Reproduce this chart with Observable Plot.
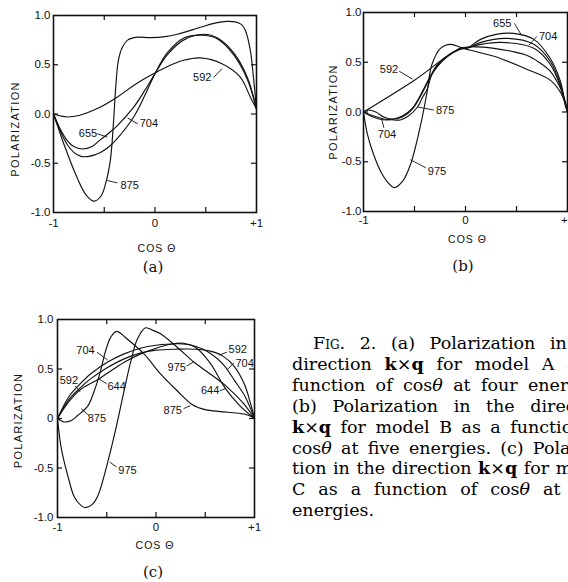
<!DOCTYPE html>
<html><head><meta charset="utf-8">
<script src="https://cdn.jsdelivr.net/npm/d3@7"></script>
<script src="https://cdn.jsdelivr.net/npm/@observablehq/plot@0.6"></script>
<style>
html,body{margin:0;padding:0;background:#fff;}
#root{position:relative;width:568px;height:582px;overflow:hidden;background:#fff;color:#111;}
.panel{position:absolute;}
.tag{position:absolute;font-family:"DejaVu Serif",serif;font-size:15px;transform:translate(-50%,-50%);color:#111;}
#cap{position:absolute;left:292px;top:333px;width:318px;font-family:"DejaVu Serif",serif;font-size:17.5px;line-height:20.9px;color:#000;}
#cap .j{text-align:justify;text-align-last:justify;white-space:nowrap;}
#cap div{white-space:nowrap;}
</style></head>
<body><div id="root">
<div id="pa" class="panel" style="left:0;top:0"></div>
<div id="pb" class="panel" style="left:290px;top:0"></div>
<div id="pc" class="panel" style="left:0;top:300px"></div>
<div class="tag" style="left:153px;top:267px">(a)</div>
<div class="tag" style="left:463px;top:266px">(b)</div>
<div class="tag" style="left:153px;top:572px">(c)</div>
<div id="cap">
<div class="j" style="text-indent:21px">F<span style="font-variant:small-caps">ig</span>. 2. (a) Polarization in the</div>
<div class="j">direction <b>k</b>×<b>q</b> for model A as a</div>
<div class="j">function of cos<i>θ</i> at four energies.</div>
<div class="j">(b) Polarization in the direction</div>
<div class="j"><b>k</b>×<b>q</b> for model B as a function of</div>
<div class="j">cos<i>θ</i> at five energies. (c) Polariza-</div>
<div class="j">tion in the direction <b>k</b>×<b>q</b> for model</div>
<div class="j">C as a function of cos<i>θ</i> at four</div>
<div>energies.</div>
</div>
</div>
<script>
// ---- axis ticks ----
const xTicks = [-1, 0, 1];
const xTickText = ["-1", "0", "+1"];
const yTicks = [1, 0.5, 0, -0.5, -1];
const yTickTextAB = ["1.0", "0.5", "0.0", "-0.5", "-1.0"];
const yTickTextC = ["1.0", "0.5", "0", "-0.5", "-1.0"];
const innerTicks = [-0.5, 0, 0.5];

// ---- panel (a): model A, [cos θ, polarization] ----
const a592 = [[-1,0],[-0.93,-0.02],[-0.865,-0.03],[-0.75,-0.015],[-0.537,0.07],[-0.373,0.17],[-0.21,0.29],[-0.03,0.40],[0.1,0.47],[0.28,0.545],[0.45,0.57],[0.66,0.51],[0.84,0.375],[0.94,0.17],[1,0.05]];
const a655 = [[-1,0],[-0.93,-0.16],[-0.865,-0.27],[-0.8,-0.33],[-0.72,-0.355],[-0.62,-0.33],[-0.537,-0.26],[-0.45,-0.19],[-0.373,-0.12],[-0.21,0.07],[-0.1,0.24],[0,0.41],[0.12,0.60],[0.28,0.75],[0.48,0.81],[0.62,0.77],[0.776,0.62],[0.91,0.37],[1,0.05]];
const a704 = [[-1,0],[-0.93,-0.18],[-0.865,-0.31],[-0.8,-0.39],[-0.73,-0.43],[-0.65,-0.43],[-0.537,-0.39],[-0.45,-0.33],[-0.373,-0.25],[-0.21,-0.03],[-0.1,0.19],[0,0.41],[0.12,0.62],[0.28,0.77],[0.48,0.80],[0.62,0.76],[0.776,0.60],[0.91,0.35],[1,0.05]];
const a875 = [[-1,0],[-0.95,-0.15],[-0.9,-0.30],[-0.77,-0.64],[-0.68,-0.82],[-0.60,-0.885],[-0.53,-0.83],[-0.49,-0.72],[-0.44,-0.47],[-0.41,-0.10],[-0.385,0.30],[-0.36,0.55],[-0.32,0.68],[-0.27,0.75],[-0.175,0.78],[-0.044,0.775],[0.1,0.785],[0.22,0.81],[0.448,0.88],[0.6,0.925],[0.71,0.94],[0.79,0.935],[0.85,0.91],[0.89,0.85],[0.94,0.64],[0.97,0.37],[1,0.05]];
const labA = [["592",0.465,0.37],["655",-0.66,-0.20],["704",-0.06,-0.10],["875",-0.25,-0.725]];
const leadA = [[0.576,0.37,0.66,0.46],[-0.57,-0.20,-0.47,-0.235],[-0.17,-0.10,-0.27,-0.04],[-0.37,-0.70,-0.47,-0.675]];

// ---- panel (b): model B ----
const b592 = [[-1,0],[-0.5,0.32],[-0.05,0.64],[0.1,0.655],[0.28,0.64],[0.45,0.61],[0.6,0.57],[0.72,0.50],[0.83,0.41],[0.93,0.24],[0.98,0.1],[1,0]];
const b655 = [[-1,0],[-0.95,0.02],[-0.88,0.0],[-0.8,-0.05],[-0.72,-0.07],[-0.62,-0.05],[-0.52,0.03],[-0.42,0.20],[-0.34,0.36],[-0.28,0.45],[-0.18,0.555],[-0.05,0.63],[0.02,0.645],[0.147,0.73],[0.3,0.78],[0.47,0.79],[0.67,0.73],[0.83,0.54],[0.93,0.31],[0.98,0.07],[1,0]];
const b704 = [[-1,0],[-0.93,-0.04],[-0.85,-0.07],[-0.77,-0.08],[-0.7,-0.07],[-0.62,-0.04],[-0.52,0.04],[-0.42,0.21],[-0.34,0.37],[-0.28,0.46],[-0.18,0.56],[-0.05,0.635],[0.02,0.645],[0.15,0.70],[0.4,0.74],[0.67,0.68],[0.83,0.51],[0.93,0.28],[0.98,0.07],[1,0]];
const b875 = [[-1,0],[-0.9,-0.04],[-0.8,-0.07],[-0.7,-0.08],[-0.64,-0.08],[-0.56,-0.04],[-0.47,0.05],[-0.42,0.15],[-0.38,0.22],[-0.33,0.38],[-0.28,0.47],[-0.18,0.56],[-0.05,0.635],[0.02,0.645],[0.15,0.68],[0.35,0.70],[0.67,0.64],[0.83,0.48],[0.93,0.26],[0.98,0.07],[1,0]];
const b975 = [[-1,0],[-0.96,-0.23],[-0.9,-0.43],[-0.83,-0.60],[-0.76,-0.71],[-0.70,-0.76],[-0.62,-0.70],[-0.54,-0.53],[-0.44,-0.13],[-0.375,0.21],[-0.33,0.475],[-0.245,0.64],[-0.147,0.68],[-0.05,0.65],[0.05,0.62],[0.28,0.56],[0.6,0.43],[0.83,0.32],[0.93,0.2],[0.98,0.08],[1,0]];
const labB = [["592",-0.75,0.425],["704",-0.77,-0.23],["875",-0.2,0.02],["975",-0.28,-0.60],["655",0.36,0.89],["704",0.81,0.76]];
const leadB = [[-0.65,0.41,-0.52,0.33],[-0.80,-0.16,-0.82,-0.08],[-0.31,0.02,-0.47,0.05],[-0.39,-0.56,-0.54,-0.48],[0.48,0.89,0.55,0.77],[0.70,0.76,0.62,0.67]];

// ---- panel (c): model C ----
const c592 = [[-1,0],[-0.885,0.19],[-0.77,0.31],[-0.665,0.40],[-0.5,0.51],[-0.33,0.60],[-0.16,0.66],[0,0.69],[0.2,0.70],[0.4,0.70],[0.55,0.68],[0.68,0.63],[0.8,0.52],[0.9,0.34],[0.96,0.15],[1,0]];
const c644 = [[-1,0],[-0.885,0.17],[-0.77,0.29],[-0.58,0.40],[-0.43,0.50],[-0.3,0.58],[-0.16,0.65],[0,0.71],[0.15,0.75],[0.28,0.76],[0.4,0.72],[0.55,0.56],[0.7,0.31],[0.85,0.13],[0.95,0.04],[1,0]];
const c704 = [[-1,0],[-0.885,0.22],[-0.77,0.35],[-0.665,0.45],[-0.49,0.57],[-0.33,0.65],[-0.16,0.71],[0,0.74],[0.22,0.755],[0.4,0.73],[0.55,0.66],[0.68,0.55],[0.8,0.38],[0.9,0.23],[0.96,0.1],[1,0]];
const c875 = [[-1,0],[-0.93,-0.035],[-0.86,-0.02],[-0.795,0.03],[-0.69,0.13],[-0.63,0.27],[-0.58,0.42],[-0.546,0.55],[-0.51,0.69],[-0.46,0.82],[-0.4,0.88],[-0.29,0.80],[-0.12,0.65],[0.046,0.45],[0.215,0.28],[0.37,0.14],[0.5,0.09],[0.655,0.07],[0.82,0.055],[0.93,0.035],[1,0]];
const c975 = [[-1,0],[-0.96,-0.31],[-0.895,-0.58],[-0.83,-0.79],[-0.76,-0.88],[-0.716,-0.90],[-0.65,-0.87],[-0.59,-0.78],[-0.49,-0.44],[-0.40,-0.07],[-0.32,0.30],[-0.25,0.60],[-0.19,0.80],[-0.107,0.916],[-0.03,0.89],[0.046,0.855],[0.215,0.72],[0.384,0.57],[0.55,0.45],[0.72,0.32],[0.89,0.15],[1,0]];
const labC = [["704",-0.716,0.69],["592",-0.885,0.38],["644",-0.40,0.32],["875",-0.60,0.0],["975",-0.29,-0.52],["592",0.83,0.70],["704",0.90,0.56],["975",0.21,0.52],["644",0.55,0.28],["875",0.17,0.08]];
const leadC = [[-0.60,0.67,-0.49,0.59],[-0.82,0.33,-0.77,0.27],[-0.50,0.35,-0.58,0.40],[-0.68,0.03,-0.76,0.10],[-0.40,-0.49,-0.47,-0.44],[0.72,0.67,0.64,0.64],[0.79,0.56,0.72,0.49],[0.31,0.53,0.38,0.57],[0.65,0.28,0.70,0.30],[0.28,0.10,0.35,0.13]];

const FONT = "'Liberation Sans', Arial, sans-serif";

function rows(curves) {
  return curves.flatMap(([name, pts]) => pts.map(([c, p]) => ({name, c, p})));
}

function panel(el, o) {
  const innerW = o.width - o.ml - o.mr;
  const innerH = o.height - o.mt - o.mb;
  const yFmt = d => o.yText[yTicks.indexOf(d)];
  const xFmt = d => xTickText[xTicks.indexOf(d)];
  const chart = Plot.plot({
    width: o.width, height: o.height,
    marginLeft: o.ml, marginRight: o.mr, marginTop: o.mt, marginBottom: o.mb,
    x: {domain: [-1, 1]}, y: {domain: [-1, 1]},
    style: {fontFamily: FONT, fontSize: "11px", color: "#111", background: "transparent", overflow: "visible"},
    marks: [
      Plot.tickX(innerTicks, {x: d => d, insetTop: innerH - 5, stroke: "#111", strokeWidth: 1.2}),
      Plot.tickX(innerTicks, {x: d => d, insetBottom: innerH - 5, stroke: "#111", strokeWidth: 1.2}),
      Plot.tickY(innerTicks, {y: d => d, insetRight: innerW - 5, stroke: "#111", strokeWidth: 1.2}),
      Plot.tickY(innerTicks, {y: d => d, insetLeft: innerW - 5, stroke: "#111", strokeWidth: 1.2}),
      Plot.axisX({ticks: xTicks, tickFormat: xFmt, tickSize: 0, tickPadding: o.padX, label: null, fontSize: 11.5}),
      Plot.axisY({ticks: yTicks, tickFormat: yFmt, tickSize: 0, tickPadding: o.padY, label: null, fontSize: 11.5}),
      Plot.line(rows(o.curves), {x: "c", y: "p", z: "name", curve: "catmull-rom", stroke: "#111", strokeWidth: 1.15}),
      Plot.link(o.leads, {x1: d => d[0], y1: d => d[1], x2: d => d[2], y2: d => d[3], stroke: "#111", strokeWidth: 0.9}),
      Plot.text(o.labels, {x: d => d[1], y: d => d[2], text: d => d[0], fontSize: 11, fill: "#111"}),
      Plot.text(["POLARIZATION"], {text: d => d, frameAnchor: "left", textAnchor: "middle", lineAnchor: "middle", dx: o.pdx, dy: o.pdy, rotate: -90, fontSize: 11, fill: "#111"}),
      Plot.text(["COS Θ"], {text: d => d, frameAnchor: "bottom", textAnchor: "middle", lineAnchor: "middle", dx: o.cdx, dy: o.cdy, fontSize: 10.5, fill: "#111"}),
      Plot.frame({stroke: "#111", strokeWidth: 1.6})
    ]
  });
  d3.select(chart).selectAll("text").filter(function() { return this.textContent === "POLARIZATION"; }).attr("letter-spacing", "1.3px");
  d3.select(chart).selectAll("text").filter(function() { return this.textContent === "COS Θ"; }).attr("letter-spacing", "1px");
  el.appendChild(chart);
}

panel(document.getElementById("pa"), {
  width: 270, height: 265, ml: 53, mr: 14, mt: 15, mb: 53,
  yText: yTickTextAB, padX: 6, padY: 3, pdx: -38, pdy: 15, cdx: 2, cdy: 36,
  curves: [["592", a592], ["655", a655], ["704", a704], ["875", a875]],
  labels: labA, leads: leadA
});
panel(document.getElementById("pb"), {
  width: 278, height: 265, ml: 73, mr: 1, mt: 12, mb: 54,
  yText: yTickTextAB, padX: 4, padY: 2, pdx: -30, pdy: 0, cdx: 2, cdy: 28,
  curves: [["592", b592], ["655", b655], ["704", b704], ["875", b875], ["975", b975]],
  labels: labB, leads: leadB
});
panel(document.getElementById("pc"), {
  width: 270, height: 265, ml: 57, mr: 16, mt: 19, mb: 48,
  yText: yTickTextC, padX: 5, padY: 4, pdx: -39, pdy: 2, cdx: -1, cdy: 28,
  curves: [["592", c592], ["644", c644], ["704", c704], ["875", c875], ["975", c975]],
  labels: labC, leads: leadC
});
</script>
</body></html>
